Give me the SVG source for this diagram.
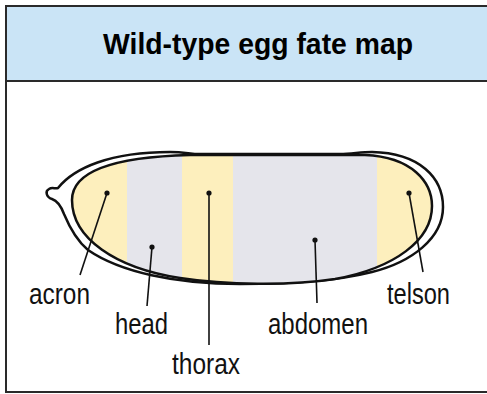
<svg xmlns="http://www.w3.org/2000/svg" width="487" height="394" viewBox="0 0 487 394">
  <style>
    .frame { fill: #ffffff; stroke: #2a2a2a; stroke-width: 2; }
    .header { fill: #cae4f6; stroke: #2a2a2a; stroke-width: 2; }
    .title { font-family: "Liberation Sans", Arial, sans-serif; font-weight: bold; font-size: 30px; fill: #000; }
    .label { font-family: "Liberation Sans", Arial, sans-serif; font-size: 29px; fill: #111; }
    .shell { fill: #ffffff; stroke: #111; stroke-width: 2.5; stroke-linejoin: round; }
    .embryo-outline { fill: none; stroke: #111; stroke-width: 2.5; }
    .yellow { fill: #fdefbd; }
    .gray { fill: #e5e5eb; }
    .leader { stroke: #111; stroke-width: 1.6; fill: none; }
    .dot { fill: #111; }
  </style>
  <defs>
    <clipPath id="embryoClip">
      <path id="embryoShape" d="M 72,200 C 72,172 112,157 190,155 L 365,155 C 412,157 432,182 432,206 C 432,240 395,268 335,279 C 290,286 225,285 180,278 C 115,268 72,238 72,200 Z"/>
    </clipPath>
  </defs>

  <!-- outer frame and title bar -->
  <rect class="frame" x="6" y="6" width="490" height="386"/>
  <rect class="header" x="6" y="6" width="490" height="75"/>
  <text class="title" x="258" y="54" text-anchor="middle" textLength="310" lengthAdjust="spacingAndGlyphs">Wild-type egg fate map</text>

  <!-- egg shell (chorion) with anterior nub -->
  <g id="shell">
    <path class="shell" d="M 58,188 C 74,168 110,152 170,152 C 185,152 190,154 200,154 L 340,154 C 352,154 360,152 372,152 C 420,153 443,178 443,207 C 443,238 412,262 372,272 C 340,280 300,284 240,284 C 175,284 120,272 88,250 C 76,240 69,226 64,214 C 61,206 58,201 52,199 C 46,197 45,191 49,189 C 52,187 55,189 58,188 Z"/>
  </g>

  <!-- embryo with fate-map stripes -->
  <g id="embryo">
    <g clip-path="url(#embryoClip)">
      <rect class="yellow" x="60" y="140" width="67" height="160"/>
      <rect class="gray" x="127" y="140" width="55" height="160"/>
      <rect class="yellow" x="182" y="140" width="51" height="160"/>
      <rect class="gray" x="233" y="140" width="144" height="160"/>
      <rect class="yellow" x="377" y="140" width="70" height="160"/>
    </g>
    <use href="#embryoShape" class="embryo-outline"/>
  </g>

  <!-- leader lines from regions to labels -->
  <g id="connectors">
    <line class="leader" x1="107" y1="193" x2="80" y2="275"/>
    <line class="leader" x1="152" y1="247" x2="147" y2="306"/>
    <line class="leader" x1="209" y1="193" x2="209" y2="345"/>
    <line class="leader" x1="315" y1="240" x2="317" y2="303"/>
    <line class="leader" x1="409" y1="193" x2="423" y2="272"/>
    <circle class="dot" cx="107" cy="193" r="2.6"/>
    <circle class="dot" cx="152" cy="247" r="2.6"/>
    <circle class="dot" cx="209" cy="193" r="2.6"/>
    <circle class="dot" cx="315" cy="240" r="2.6"/>
    <circle class="dot" cx="409" cy="193" r="2.6"/>
  </g>

  <g id="acron"><text class="label" x="29" y="304" textLength="61" lengthAdjust="spacingAndGlyphs">acron</text></g>
  <g id="head"><text class="label" x="115" y="334" textLength="53" lengthAdjust="spacingAndGlyphs">head</text></g>
  <g id="thorax"><text class="label" x="172" y="374" textLength="68" lengthAdjust="spacingAndGlyphs">thorax</text></g>
  <g id="abdomen"><text class="label" x="268" y="334" textLength="100" lengthAdjust="spacingAndGlyphs">abdomen</text></g>
  <g id="telson"><text class="label" x="387" y="304" textLength="63" lengthAdjust="spacingAndGlyphs">telson</text></g>
</svg>
